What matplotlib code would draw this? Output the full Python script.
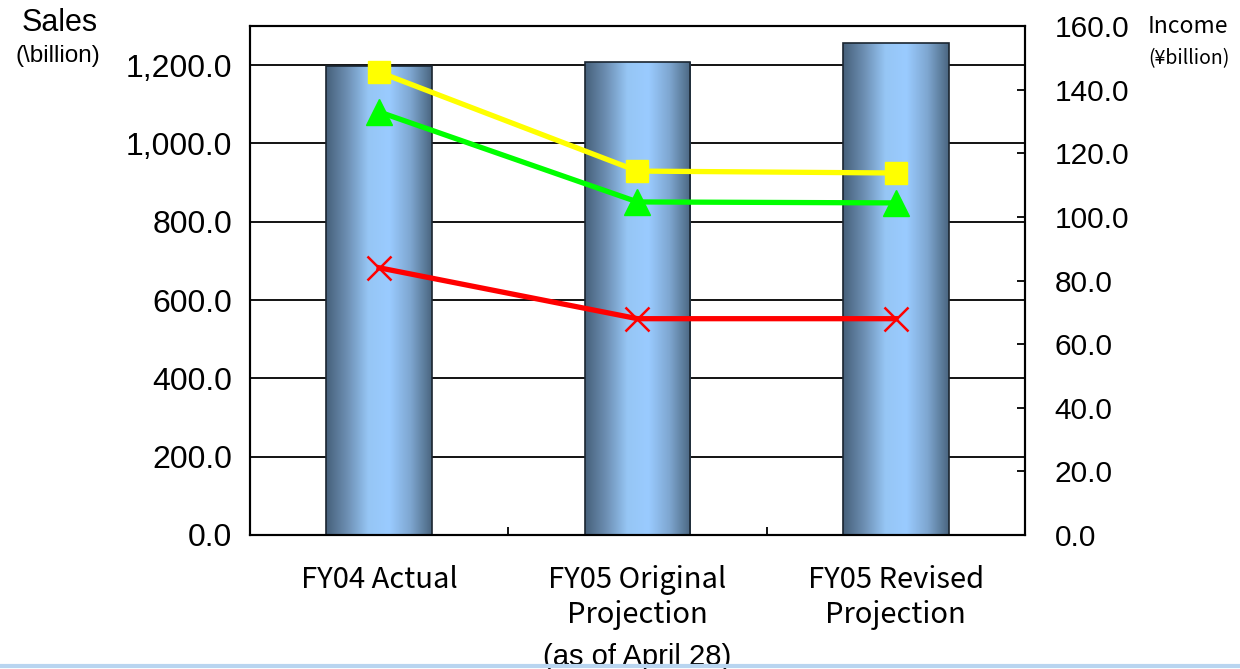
import matplotlib.pyplot as plt
import numpy as np
from matplotlib.colors import LinearSegmentedColormap
from matplotlib.lines import Line2D

# values
categories = ["FY04 Actual", "FY05 Original\nProjection", "FY05 Revised\nProjection"]
sales = [1197.0, 1207.0, 1256.0]
income_yellow = [145.5, 114.4, 113.8]
income_green = [133.0, 104.7, 104.4]
income_red = [84.0, 68.0, 68.0]

left_ticks = [0, 200, 400, 600, 800, 1000, 1200]
right_ticks = [0, 20, 40, 60, 80, 100, 120, 140, 160]

num_font = "Liberation Sans"
jp_font = ["Noto Sans CJK JP", "DejaVu Sans"]

bar_cmap = LinearSegmentedColormap.from_list(
    "bar_shade",
    ["#46607a", "#6d8fb3", "#96c6f5", "#9acbff", "#7ea6d0", "#4a6680"],
)


def draw_gradient_bars(ax, bars):
    grad = np.linspace(0, 1, 256).reshape(1, -1)
    for patch in bars:
        x0, y0 = patch.get_x(), patch.get_y()
        w, h = patch.get_width(), patch.get_height()
        im = ax.imshow(
            grad,
            cmap=bar_cmap,
            aspect="auto",
            extent=(x0, x0 + w, y0, y0 + h),
            zorder=2,
            interpolation="bicubic",
        )
        im.set_clip_path(patch)


def main():
    fig = plt.figure(figsize=(12.4, 6.69), dpi=100)
    ax = fig.add_axes([0.2016, 0.2003, 0.625, 0.7608])

    x = np.arange(len(categories))

    for y in left_ticks[1:]:
        ax.axhline(y, color="black", lw=1.3, zorder=1)

    bars = ax.bar(x, sales, width=0.41, facecolor="none",
                  edgecolor="#1a2530", linewidth=1.2, zorder=3)
    draw_gradient_bars(ax, bars)

    ax.set_xlim(-0.5, 2.5)
    ax.set_ylim(0, 1300)
    ax.set_yticks(left_ticks)
    ax.set_yticklabels([f"{v:,.1f}" for v in left_ticks],
                       fontfamily=num_font, fontsize=23)
    ax.tick_params(axis="y", length=0, pad=13)

    ax.set_xticks([0.5, 1.5])
    ax.set_xticklabels([])
    ax.tick_params(axis="x", direction="in", length=6, width=1.3)

    for spine in ax.spines.values():
        spine.set_linewidth(1.5)

    for i, label in enumerate(categories):
        ax.text(i, -0.058, label, transform=ax.get_xaxis_transform(),
                ha="center", va="top", fontsize=21, family=jp_font,
                linespacing=1.22)
    ax.text(1, -0.212, "(as of April 28)", transform=ax.get_xaxis_transform(),
            ha="center", va="top", fontsize=21, fontfamily=num_font)

    ax2 = ax.twinx()
    ax2.set_ylim(0, 160)
    ax2.set_yticks(right_ticks)
    ax2.set_yticklabels([f"{v:.1f}" for v in right_ticks],
                        fontfamily=num_font, fontsize=21.5)
    ax2.tick_params(axis="y", direction="in", length=6, width=1.3, pad=21.5)
    for spine in ax2.spines.values():
        spine.set_linewidth(1.5)

    ax2.plot(x, income_red, color="#ff0000", lw=3.8, marker="x",
             markersize=17, markeredgewidth=1.8, zorder=5)
    ax2.plot(x, income_green, color="#00ff00", lw=3.8, marker="^",
             markersize=19, zorder=5)
    ax2.plot(x, income_yellow, color="#ffff00", lw=3.8, marker="s",
             markersize=16, zorder=6)

    fig.text(0.048, 0.965, "Sales", ha="center", va="center",
             fontfamily=num_font, fontsize=22)
    fig.text(0.047, 0.917, "(\\billion)", ha="center", va="center",
             fontfamily=num_font, fontsize=17.5)
    fig.text(0.958, 0.960, "Income", ha="center", va="center",
             family=jp_font, fontsize=16.5)
    fig.text(0.959, 0.913, "(¥billion)", ha="center", va="center",
             family=jp_font, fontsize=14)

    fig.add_artist(Line2D([0, 1], [0.004, 0.004], transform=fig.transFigure,
                          color="#b9d5f0", lw=3))

    fig.savefig("out.png", dpi=100)


if __name__ == "__main__":
    main()
